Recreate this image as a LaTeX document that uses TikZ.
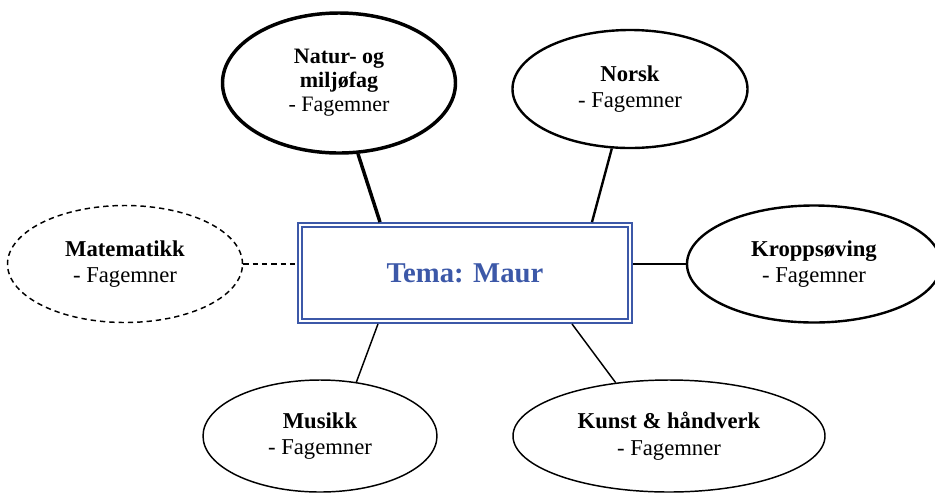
\documentclass[tikz,border=0pt]{standalone}
\usepackage{fontspec}
\setmainfont{Liberation Serif}
\usetikzlibrary{shapes.geometric, calc}
\definecolor{temablaa}{RGB}{60,88,168}

\begin{document}
\begin{tikzpicture}[x=0.75pt, y=-0.75pt,
    emne/.style = {draw, ellipse, inner sep=0pt, align=center,
                   font=\fontsize{17}{20}\selectfont},
    tynn/.style = {line width=1.1pt},
    middels/.style = {line width=1.8pt},
    tykk/.style = {line width=2.6pt},
    stiplet/.style = {dash pattern=on 4pt off 3pt},
    tema/.style = {draw=temablaa, line width=1.5pt, double=white,
                   double distance=1.2pt, outer sep=2.1pt,
                   minimum width=247.5pt, minimum height=72.2pt,
                   text=temablaa, font=\fontsize{21.5}{24}\selectfont\bfseries}]
      \useasboundingbox (0, 0) rectangle (935, 494);
      \node[tema] (tema) at (465, 273) {Tema: Maur};
      \node[emne, tykk, minimum width=174.75pt, minimum height=105pt,
            font=\fontsize{16.5}{18}\selectfont] (natur) at (339, 83)
            {\textbf{Natur- og}\\\textbf{miljøfag}\\- Fagemner};
      \node[emne, middels, minimum width=176.25pt, minimum height=88.5pt] (norsk) at (630, 89)
            {\textbf{Norsk}\\- Fagemner};
      \node[emne, middels, minimum width=190.5pt, minimum height=87.75pt] (kropp) at (814, 264)
            {\textbf{Kroppsøving}\\- Fagemner};
      \node[emne, tynn, stiplet, minimum width=176.25pt, minimum height=87.75pt] (matte) at (125, 264)
            {\textbf{Matematikk}\\- Fagemner};
      \node[emne, tynn, minimum width=175.5pt, minimum height=84pt] (musikk) at (320, 436)
            {\textbf{Musikk}\\- Fagemner};
      \node[emne, tynn, minimum width=234pt, minimum height=84pt] (kunst) at (669, 436)
            {\textbf{Kunst \& håndverk}\\- Fagemner};
      \draw[tykk] (natur.-75) -- ($(tema.north) + (-85, 0)$);
      \draw[middels] (norsk.-107) -- ($(tema.north) + (127, 0)$);
      \draw[middels] (kropp.west) -- (kropp.west -| tema.east);
      \draw[tynn, stiplet] (matte.east) -- (matte.east -| tema.west);
      \draw[tynn] (musikk.56) -- ($(tema.south) + (-87, 0)$);
      \draw[tynn] (kunst.135) -- ($(tema.south) + (107, 0)$);
    \end{tikzpicture}
\end{document}
